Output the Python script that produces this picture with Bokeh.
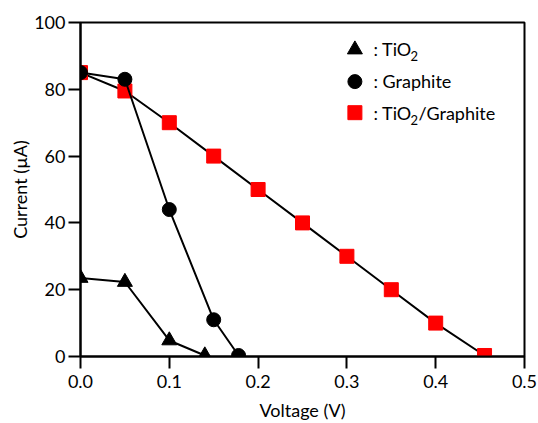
from bokeh.plotting import figure
from bokeh.models import Range1d, FixedTicker, CustomJSTickFormatter, Label
from bokeh.embed import file_html
from bokeh.resources import INLINE

# Data
tio2_v = [0.0, 0.05, 0.10, 0.14]
tio2_i = [23.5, 22.3, 4.8, 0.3]

graphite_v = [0.0, 0.05, 0.10, 0.15, 0.178]
graphite_i = [85.0, 83.0, 44.0, 11.0, 0.3]

comp_v = [0.0, 0.05, 0.10, 0.15, 0.20, 0.25, 0.30, 0.35, 0.40, 0.455]
comp_i = [85.0, 79.5, 70.0, 60.0, 50.0, 40.0, 30.0, 20.0, 10.0, 0.3]

x_ticks = [0.0, 0.1, 0.2, 0.3, 0.4, 0.5]
y_ticks = [0, 20, 40, 60, 80, 100]

FONT = "Lato"

p = figure(width=538, height=423, output_backend="svg", toolbar_location=None,
           x_range=Range1d(0, 0.5), y_range=Range1d(0, 100),
           min_border_left=80, min_border_right=14, min_border_top=22, min_border_bottom=67,
           x_axis_label="Voltage (V)", y_axis_label="Current (\u00b5A)")
p.grid.visible = False
p.outline_line_color = "black"
p.outline_line_width = 2
p.background_fill_color = "white"
p.border_fill_color = "white"

for ax in (p.xaxis[0], p.yaxis[0]):
    ax.axis_line_width = 2
    ax.axis_line_color = "black"
    ax.major_tick_line_width = 2
    ax.major_tick_line_color = "black"
    ax.major_tick_out = 12
    ax.major_tick_in = 0
    ax.minor_tick_line_color = None
    ax.major_label_text_font = FONT
    ax.major_label_text_font_size = "18px"
    ax.major_label_text_color = "black"
    ax.axis_label_text_font = FONT
    ax.axis_label_text_font_size = "18px"
    ax.axis_label_text_font_style = "normal"
    ax.axis_label_text_color = "black"

p.xaxis[0].ticker = FixedTicker(ticks=x_ticks)
p.xaxis[0].formatter = CustomJSTickFormatter(code="return tick.toFixed(1);")
p.yaxis[0].ticker = FixedTicker(ticks=y_ticks)
p.xaxis[0].major_label_standoff = 6
p.yaxis[0].major_label_standoff = 3
p.xaxis[0].axis_label_standoff = 8
p.yaxis[0].axis_label_standoff = 0

# TiO2/Graphite
p.line(comp_v, comp_i, line_color="black", line_width=2)
p.scatter(comp_v, comp_i, marker="square", size=14, fill_color="#ff0000", line_color="#ff0000")
# Graphite
p.line(graphite_v, graphite_i, line_color="black", line_width=2)
p.scatter(graphite_v, graphite_i, marker="circle", size=14, fill_color="black", line_color="black")
# TiO2
p.line(tio2_v, tio2_i, line_color="black", line_width=2)
p.scatter(tio2_v, tio2_i, marker="triangle", size=15, fill_color="black", line_color="black")

# Legend (drawn manually)
leg_x = 0.309
p.scatter([leg_x], [91.9], marker="triangle", size=15, fill_color="black", line_color="black")
p.scatter([leg_x], [82.3], marker="circle", size=14, fill_color="black", line_color="black")
p.scatter([leg_x], [73.0], marker="square", size=14, fill_color="#ff0000", line_color="#ff0000")

LEFT = 80
def lab(text, x, y_from_top, size="18px"):
    p.add_layout(Label(x=x - LEFT, y=423 - 67 - y_from_top, x_units="screen", y_units="screen",
                       text=text, text_font=FONT, text_font_size=size, text_color="black",
                       text_baseline="middle", text_align="left"))

lab(": TiO", 373, 48)
lab("2", 410, 55, "13px")
lab(": Graphite", 373, 80)
lab(": TiO", 373, 112)
lab("2", 410, 119, "13px")
lab("/Graphite", 418, 112)

open("out.html", "w").write(file_html(p, INLINE))
